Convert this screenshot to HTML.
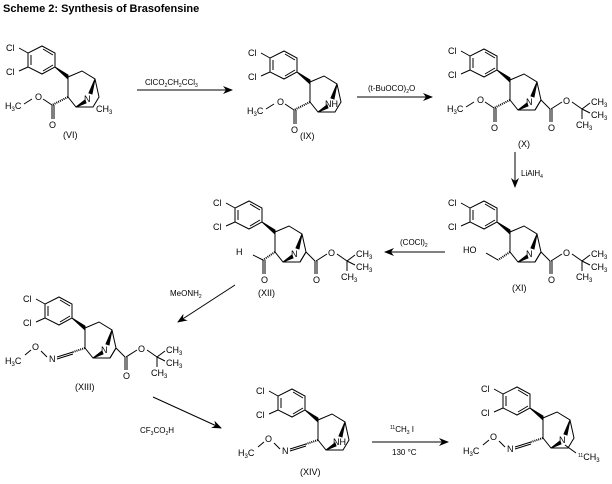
<!DOCTYPE html>
<html><head><style>
body{margin:0;background:#fff;width:612px;height:479px;overflow:hidden}
svg{font-family:"Liberation Sans",Arial,sans-serif;font-size:9px}
</style></head><body>
<svg width="612" height="479" viewBox="0 0 612 479" xmlns="http://www.w3.org/2000/svg">
<defs>
<marker id="ah" markerWidth="10" markerHeight="8" refX="9" refY="4" orient="auto" markerUnits="userSpaceOnUse">
<path d="M0,0 L10,4 L0,8 L3,4 z" fill="#000"/></marker>
<g id="core" stroke="#000" stroke-width="1" fill="none">
<polygon points="-13,-10 -13,-24 -26,-31 -40,-24 -40,-10 -26,-3"/>
<line x1="-15" y1="-22" x2="-25" y2="-28"/><line x1="-37" y1="-22" x2="-37" y2="-12"/><line x1="-25" y1="-6" x2="-15" y2="-12"/>
<line x1="-40" y1="-24" x2="-49" y2="-29"/><line x1="-40" y1="-10" x2="-49" y2="-6"/>
<polygon points="-13,-10 0,-2 0,2" fill="#000"/>
<polyline points="0,0 14,-6 27,2 31,20 25,30 8,30 0,20 0,0"/>
<polygon points="27,2 21,16 24,17" fill="#000"/>
<polygon points="8,30 17,23 18,26" fill="#000"/>
<text x="-62" y="-26" stroke="none" fill="#000">Cl</text>
<text x="-62" y="-2" stroke="none" fill="#000">Cl</text>
</g>
<g id="ester" stroke="#000" stroke-width="1" fill="none">
<line x1="0" y1="20" x2="-16" y2="28" stroke-dasharray="1,1" stroke-width="2"/>
<line x1="-16" y1="28" x2="-16" y2="42"/><line x1="-14" y1="28" x2="-14" y2="42"/>
<line x1="-16" y1="28" x2="-25" y2="22"/><line x1="-36" y1="22" x2="-44" y2="27"/>
<text x="-33" y="23" stroke="none" fill="#000">O</text>
<text x="-19" y="51" stroke="none" fill="#000">O</text>
<text x="-63" y="32" stroke="none" fill="#000">H<tspan font-size="6" dy="2">3</tspan><tspan dy="-2">C</tspan></text>
</g>
<g id="oxime" stroke="#000" stroke-width="1" fill="none">
<line x1="0" y1="20" x2="-12" y2="24" stroke-dasharray="1,1" stroke-width="2"/>
<line x1="-12" y1="24" x2="-28" y2="29"/><line x1="-12" y1="26" x2="-28" y2="31"/>
<line x1="-38" y1="29" x2="-44" y2="23"/><line x1="-54" y1="22" x2="-60" y2="27"/>
<text x="-36" y="34" stroke="none" fill="#000">N</text>
<text x="-53" y="22" stroke="none" fill="#000">O</text>
<text x="-80" y="36" stroke="none" fill="#000">H<tspan font-size="6" dy="2">3</tspan><tspan dy="-2">C</tspan></text>
</g>
<g id="boc" stroke="#000" stroke-width="1" fill="none">
<line x1="25" y1="30" x2="31" y2="20"/>
<line x1="31" y1="20" x2="40" y2="29"/>
<line x1="40" y1="29" x2="40" y2="42"/><line x1="42" y1="29" x2="42" y2="42"/>
<line x1="41" y1="29" x2="52" y2="22"/><line x1="62" y1="22" x2="72" y2="29"/>
<line x1="72" y1="29" x2="80" y2="23"/><line x1="72" y1="29" x2="80" y2="33"/><line x1="72" y1="29" x2="72" y2="39"/>
<text x="38" y="51" stroke="none" fill="#000">O</text>
<text x="53" y="24" stroke="none" fill="#000">O</text>
<text x="81" y="25" stroke="none" fill="#000">CH<tspan font-size="6" dy="2">3</tspan></text>
<text x="81" y="38" stroke="none" fill="#000">CH<tspan font-size="6" dy="2">3</tspan></text>
<text x="66" y="48" stroke="none" fill="#000">CH<tspan font-size="6" dy="2">3</tspan></text>
</g>
</defs>
<text x="3" y="12" font-weight="bold" font-size="11">Scheme 2: Synthesis of Brasofensine</text>

<!-- VI -->
<g transform="translate(68,77)"><use href="#core"/><use href="#ester"/>
<text x="16" y="25">N</text><text x="28" y="35">CH<tspan font-size="6" dy="2">3</tspan></text>
<text x="-5" y="61">(VI)</text></g>
<line x1="137" y1="90" x2="232" y2="90" stroke="#000" marker-end="url(#ah)"/>
<text x="145" y="85" font-size="8">ClCO<tspan font-size="5" dy="2">2</tspan><tspan dy="-2">CH</tspan><tspan font-size="5" dy="2">2</tspan><tspan dy="-2">CCl</tspan><tspan font-size="5" dy="2">3</tspan></text>

<!-- IX -->
<g transform="translate(310,82)"><use href="#core"/><use href="#ester"/>
<text x="15" y="25">NH</text><text x="-10" y="57">(IX)</text></g>
<line x1="357" y1="97" x2="432" y2="97" stroke="#000" marker-end="url(#ah)"/>
<text x="368" y="91" font-size="8">(t-BuOCO)<tspan font-size="5" dy="2">2</tspan><tspan dy="-2">O</tspan></text>

<!-- X -->
<g transform="translate(510,80)"><use href="#core"/><use href="#ester"/><use href="#boc"/>
<text x="16" y="25">N</text><text x="8" y="67">(X)</text></g>
<line x1="515" y1="152" x2="515" y2="187" stroke="#000" marker-end="url(#ah)"/>
<text x="521" y="176" font-size="8">LiAlH<tspan font-size="5" dy="2">4</tspan></text>

<!-- XI -->
<g transform="translate(510,232)"><use href="#core"/><use href="#boc"/>
<text x="16" y="25">N</text>
<line x1="0" y1="20" x2="-12" y2="28" stroke="#000" stroke-width="2" stroke-dasharray="1,1"/>
<line x1="-12" y1="28" x2="-24" y2="21" stroke="#000"/>
<text x="-47" y="21">HO</text><text x="2" y="59">(XI)</text></g>
<line x1="445" y1="252" x2="385" y2="252" stroke="#000" marker-end="url(#ah)"/>
<text x="400" y="245" font-size="8">(COCl)<tspan font-size="5" dy="2">2</tspan></text>

<!-- XII -->
<g transform="translate(275,232)"><use href="#core"/><use href="#boc"/>
<text x="16" y="25">N</text>
<line x1="0" y1="20" x2="-12" y2="28" stroke="#000" stroke-width="2" stroke-dasharray="1,1"/>
<line x1="-12" y1="28" x2="-22" y2="23" stroke="#000"/>
<line x1="-12" y1="28" x2="-12" y2="42" stroke="#000"/><line x1="-10" y1="28" x2="-10" y2="42" stroke="#000"/>
<text x="-39" y="23">H</text>
<text x="-14" y="51">O</text><text x="-17" y="64">(XII)</text></g>
<line x1="235" y1="285" x2="178" y2="322" stroke="#000" marker-end="url(#ah)"/>
<text x="170" y="296" font-size="8">MeONH<tspan font-size="5" dy="2">2</tspan></text>

<!-- XIII -->
<g transform="translate(85,328)"><use href="#core"/><use href="#oxime"/><use href="#boc"/>
<text x="16" y="25">N</text><text x="-10" y="62">(XIII)</text></g>
<line x1="153" y1="397" x2="221" y2="428" stroke="#000" marker-end="url(#ah)"/>
<text x="140" y="433" font-size="8">CF<tspan font-size="5" dy="2">3</tspan><tspan dy="-2">CO</tspan><tspan font-size="5" dy="2">2</tspan><tspan dy="-2">H</tspan></text>

<!-- XIV -->
<g transform="translate(318,420)"><use href="#core"/><use href="#oxime"/>
<text x="15" y="25">NH</text><text x="-18" y="55">(XIV)</text></g>
<line x1="372" y1="442" x2="448" y2="442" stroke="#000" marker-end="url(#ah)"/>
<text x="390" y="432" font-size="8"><tspan font-size="5" dy="-3">11</tspan><tspan dy="3">CH</tspan><tspan font-size="5" dy="2">3</tspan><tspan dy="-2"> I</tspan></text>
<text x="392" y="455" font-size="8">130 °C</text>

<!-- final -->
<g transform="translate(543,418)"><use href="#core"/><use href="#oxime"/>
<text x="16" y="25">N</text>
<line x1="22" y1="27" x2="33" y2="35" stroke="#000"/>
<text x="35" y="42"><tspan font-size="5" dy="-3">11</tspan><tspan dy="3">CH</tspan><tspan font-size="6" dy="2">3</tspan></text></g>
</svg>
</body></html>
